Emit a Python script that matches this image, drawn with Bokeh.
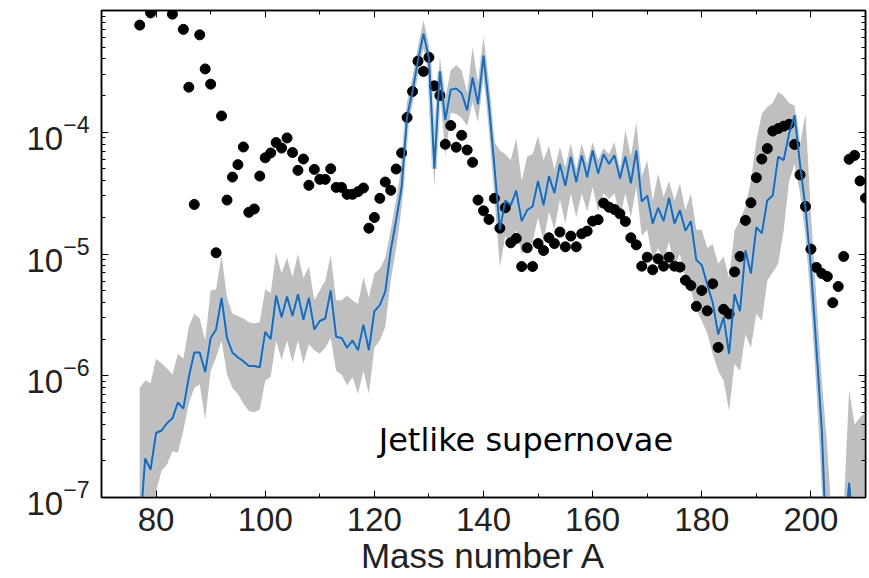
import numpy as np
from bokeh.plotting import figure
from bokeh.models import (ColumnDataSource, LogAxis, LinearAxis, FixedTicker,
                          SingleIntervalTicker, Label, Range1d, LogTickFormatter)
from bokeh.embed import file_html
from bokeh.resources import INLINE

# ---------------- data ----------------
# model (jet-like supernovae) abundances, log10, for mass numbers 77..210
model_mass = list(range(77, 211))
model_log10 = [
    -7.30, -6.68, -6.77, -6.47, -6.45, -6.39, -6.35, -6.22, -6.27, -6.01,   # 77-86
    -5.81, -5.81, -5.97, -5.69, -5.62, -5.36, -5.69, -5.81, -5.85, -5.88,   # 87-96
    -5.92, -5.92, -5.93, -5.64, -5.70, -5.34, -5.52, -5.35, -5.51, -5.33,   # 97-106
    -5.54, -5.36, -5.62, -5.55, -5.53, -5.30, -5.68, -5.69, -5.77, -5.71,   # 107-116
    -5.79, -5.58, -5.79, -5.47, -5.42, -5.31, -4.97, -4.72, -4.45, -3.87,   # 117-126
    -3.66, -3.41, -3.19, -3.39, -4.30, -3.50, -3.90, -3.65, -3.64, -3.68,   # 127-136
    -3.82, -3.55, -3.77, -3.37, -3.78, -4.28, -4.80, -4.56, -4.60, -4.48,   # 137-146
    -4.73, -4.64, -4.61, -4.40, -4.60, -4.36, -4.50, -4.26, -4.44, -4.20,   # 147-156
    -4.41, -4.19, -4.37, -4.15, -4.34, -4.18, -4.26, -4.19, -4.38, -4.20,   # 157-166
    -4.42, -4.15, -4.57, -4.52, -4.75, -4.62, -4.73, -4.54, -4.75, -4.64,   # 167-176
    -4.81, -4.73, -5.05, -5.09, -5.25, -5.40, -5.66, -5.52, -5.82, -5.33,   # 177-186
    -5.47, -4.97, -5.16, -4.78, -4.83, -4.56, -4.52, -4.20, -4.23, -4.01,   # 187-196
    -3.86, -4.26, -4.62, -5.11, -5.77, -6.45, -7.60, -8.00, -8.00, -7.40,   # 197-206
    -6.88, -7.40, -8.00, -8.00,                                             # 207-210
]
upper_log10 = [
    -6.10, -6.04, -6.06, -5.86, -5.90, -5.94, -5.99, -5.82, -5.86, -5.60,
    -5.49, -5.53, -5.71, -5.30, -5.29, -5.01, -5.36, -5.49, -5.51, -5.53,
    -5.56, -5.57, -5.56, -5.29, -5.32, -4.99, -5.16, -5.03, -5.19, -5.00,
    -5.20, -5.10, -5.38, -5.30, -5.22, -5.01, -5.38, -5.38, -5.34, -5.38,
    -5.41, -5.19, -5.36, -5.16, -5.12, -5.03, -4.80, -4.55, -4.28, -3.75,
    -3.55, -3.30, -3.08, -3.28, -4.12, -3.38, -3.72, -3.49, -3.45, -3.49,
    -3.68, -3.30, -3.60, -3.21, -3.60, -4.08, -4.15, -4.18, -4.23, -4.05,
    -4.40, -4.20, -4.18, -4.03, -4.23, -4.11, -4.31, -4.12, -4.29, -4.09,
    -4.31, -4.09, -4.26, -4.08, -4.23, -4.13, -4.18, -4.08, -4.31, -3.98,
    -4.20, -3.92, -4.37, -4.23, -4.56, -4.34, -4.53, -4.40, -4.56, -4.42,
    -4.64, -4.50, -4.80, -4.80, -4.95, -4.92, -5.08, -5.02, -5.20, -4.81,
    -4.72, -4.61, -4.40, -4.07, -3.85, -3.79, -3.76, -3.67, -3.70, -3.76,
    -3.78, -4.10, -3.85, -4.67, -5.36, -6.04, -6.59, -7.30, -7.30, -7.10,
    -6.12, -6.40, -6.34, -6.30,
]
lower_log10 = [
    -8.00, -7.50, -7.30, -6.95, -6.78, -6.73, -6.62, -6.63, -6.45, -6.23,
    -6.10, -6.07, -6.36, -5.96, -5.85, -5.71, -5.99, -6.10, -6.15, -6.23,
    -6.29, -6.30, -6.28, -6.04, -6.01, -5.71, -5.87, -5.71, -5.89, -5.71,
    -5.90, -5.74, -5.79, -5.82, -5.77, -5.69, -5.96, -5.99, -6.08, -6.01,
    -6.15, -5.96, -6.15, -5.77, -5.71, -5.60, -5.22, -4.95, -4.62, -3.98,
    -3.77, -3.52, -3.31, -3.52, -4.45, -3.62, -4.20, -3.84, -3.85, -3.88,
    -3.95, -3.75, -3.92, -3.52, -3.95, -4.52, -5.11, -4.85, -4.95, -4.80,
    -5.00, -4.95, -4.90, -4.70, -4.90, -4.65, -4.80, -4.55, -4.75, -4.50,
    -4.70, -4.50, -4.65, -4.45, -4.65, -4.50, -4.55, -4.50, -4.70, -4.50,
    -4.70, -4.45, -4.85, -4.80, -5.05, -4.95, -5.05, -4.90, -5.10, -5.00,
    -5.20, -5.30, -5.45, -5.55, -5.65, -5.82, -5.96, -6.04, -6.29, -5.90,
    -5.96, -5.66, -5.77, -5.49, -5.55, -5.22, -5.15, -5.08, -4.81, -4.40,
    -4.26, -4.50, -4.85, -5.40, -6.10, -6.90, -7.60, -8.00, -8.00, -8.00,
    -8.00, -8.00, -8.00, -8.00,
]

# solar r-process abundances (black dots), log10
solar_mass = [77, 79, 83, 85, 86, 87, 88, 89, 90, 91, 92, 93, 94, 95, 96, 97, 98, 99,
              100, 101, 102, 103, 104, 105, 106, 107, 108, 109, 110, 111, 112, 113, 114,
              115, 116, 117, 118, 119, 120, 121, 122, 123, 124, 125, 126, 127, 128, 129,
              130, 131, 132, 133, 134, 135, 136, 137, 138, 139, 140, 141, 142, 143, 144,
              145, 146, 147, 148, 149, 150, 151, 152, 153, 154, 155, 156, 157, 158, 159,
              160, 161, 162, 163, 164, 165, 166, 167, 168, 169, 170, 171, 172, 173, 174,
              175, 176, 177, 178, 179, 180, 181, 182, 183, 184, 185, 186, 187, 188, 189,
              190, 191, 192, 193, 194, 195, 196, 197, 198, 199, 200, 201, 202, 203, 204,
              205, 206, 207, 208, 209, 210]
solar_log10 = [-3.12, -3.02, -3.03, -3.155, -3.63, -4.593, -3.20, -3.48, -3.605, -4.99,
               -3.866, -4.557, -4.368, -4.266, -4.121, -4.658, -4.63, -4.36,
               -4.21, -4.17, -4.085, -4.13, -4.047, -4.167, -4.313, -4.22, -4.436, -4.305,
               -4.387, -4.387, -4.30, -4.453, -4.453,
               -4.51, -4.51, -4.488, -4.458, -4.788, -4.70, -4.543, -4.409, -4.477, -4.302,
               -4.17, -3.879, -3.665, -3.416, -3.50,
               -3.385, -3.619, -3.698, -4.099, -3.945, -4.123, -4.025, -4.146, -4.247,
               -4.557, -4.645, -4.716, -4.543, -4.788, -4.62,
               -4.908, -4.872, -5.103, -4.949, -5.103, -4.914, -4.971, -4.867, -4.914,
               -4.82, -4.941, -4.853, -4.941, -4.834, -4.812,
               -4.73, -4.718, -4.582, -4.615, -4.634, -4.67, -4.733, -4.867, -4.925, -5.10,
               -5.026, -5.13, -5.04, -5.10, -5.026,
               -5.10, -5.108, -5.215, -5.259, -5.43, -5.30, -5.467, -5.245, -5.767, -5.454,
               -5.492, -5.147, -5.02, -4.724, -4.579,
               -4.373, -4.22, -4.134, -3.99, -3.97, -3.95, -3.935, -4.10, -4.35, -4.61,
               -4.96, -5.11, -5.16, -5.185, -5.40,
               -5.267, -5.02, -4.222, -4.19, -4.40, -4.54]

y_ticks = [1e-7, 1e-6, 1e-5, 1e-4]

model_src = ColumnDataSource(dict(
    A=model_mass,
    y=[10 ** v for v in model_log10],
    hi=[10 ** v for v in upper_log10],
    lo=[10 ** v for v in lower_log10],
))
solar_src = ColumnDataSource(dict(A=solar_mass, y=[10 ** v for v in solar_log10]))

# ---------------- figure ----------------
p = figure(width=869, height=578, x_range=Range1d(70, 210), y_range=Range1d(1e-7, 1e-3),
           y_axis_type="log", output_backend="svg", toolbar_location=None,
           min_border_left=101, min_border_right=4, min_border_top=10, min_border_bottom=81)
p.grid.visible = False
p.outline_line_color = "black"
p.outline_line_width = 1.5
p.background_fill_color = "white"
p.border_fill_color = "white"

p.varea(x="A", y1="lo", y2="hi", source=model_src, fill_color="#bfbfbf", fill_alpha=1.0)
p.line(x="A", y="y", source=model_src, line_color="#a8cbe6", line_width=5, line_alpha=0.7)
p.scatter(x="A", y="y", source=solar_src, size=10, fill_color="black", line_color="black")
p.line(x="A", y="y", source=model_src, line_color="#2468ad", line_width=2)

minor_y = [m * 10.0 ** e for e in range(-7, -3) for m in range(2, 10)]


def style_axis(ax, labels=True):
    ax.axis_line_color = "black"
    ax.axis_line_width = 1.5
    ax.major_tick_in = 7
    ax.major_tick_out = 0
    ax.minor_tick_in = 4
    ax.minor_tick_out = 0
    ax.major_tick_line_color = "black"
    ax.minor_tick_line_color = "black"
    ax.major_label_text_font = "Liberation Sans"
    if labels:
        ax.major_label_text_color = "#222222"
        ax.major_label_text_font_size = "33px"
    else:
        ax.major_label_text_color = None
        ax.major_label_text_font_size = "1px"
        ax.major_label_standoff = 0


# bottom
xb = p.xaxis[0]
xb.ticker = SingleIntervalTicker(interval=20, num_minor_ticks=2)
style_axis(xb)
xb.major_label_standoff = 10
xb.axis_label = "Mass number A"
xb.axis_label_text_font = "Liberation Sans"
xb.axis_label_text_font_style = "normal"
xb.axis_label_text_font_size = "35px"
xb.axis_label_text_color = "#222222"
xb.axis_label_standoff = 2

# left
yl = p.yaxis[0]
yl.ticker = FixedTicker(ticks=y_ticks, minor_ticks=minor_y)
yl.formatter = LogTickFormatter()
style_axis(yl)
yl.major_label_standoff = 12

# top and right (ticks only)
xt = LinearAxis(ticker=SingleIntervalTicker(interval=20, num_minor_ticks=2))
style_axis(xt, labels=False)
p.add_layout(xt, "above")
yr = LogAxis(ticker=FixedTicker(ticks=y_ticks, minor_ticks=minor_y))
style_axis(yr, labels=False)
p.add_layout(yr, "right")

p.add_layout(Label(x=120.8, y=2.95e-7, text="Jetlike supernovae",
                   text_font="DejaVu Sans", text_font_size="32px",
                   text_color="black", text_baseline="alphabetic"))

open("out.html", "w").write(file_html(p, INLINE))
